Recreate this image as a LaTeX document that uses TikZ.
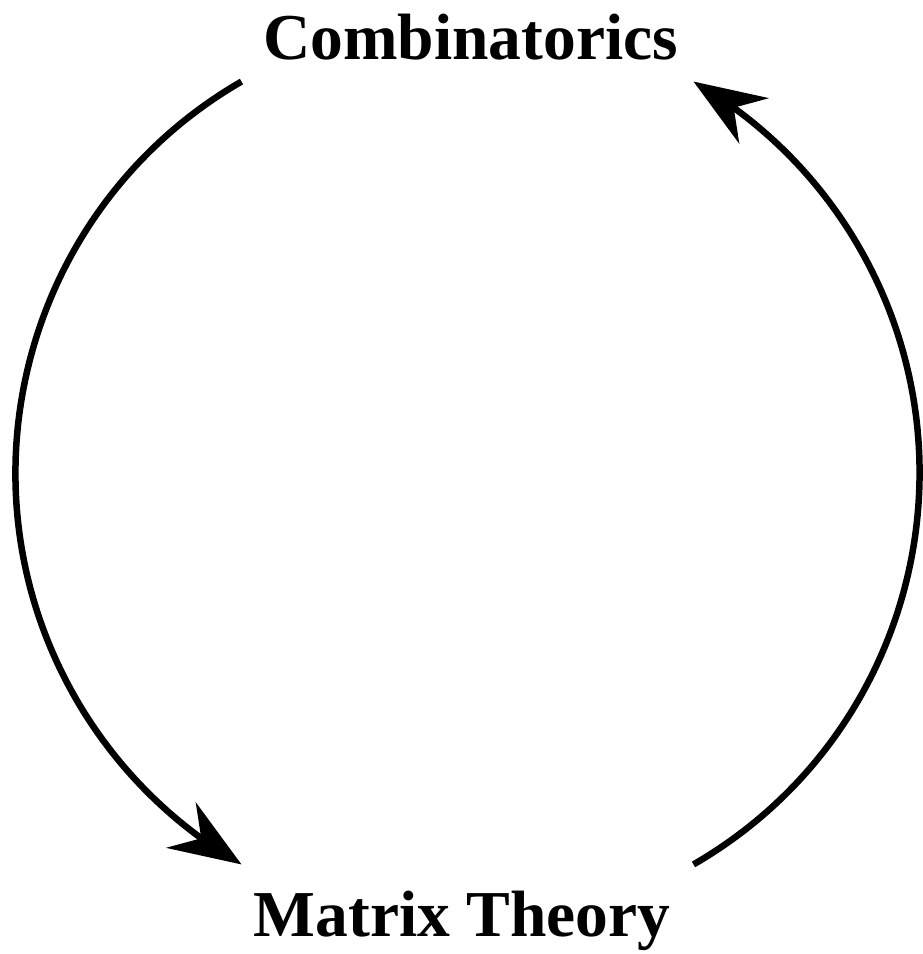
\documentclass[tikz,border=0pt]{standalone}
\usepackage{fontspec}
\setmainfont{Liberation Serif}
\usetikzlibrary{arrows.meta,bending,calc}
\begin{document}
\begin{tikzpicture}[x=1pt,y=1pt,
  label/.style={font=\fontsize{65.5}{70}\selectfont\bfseries, anchor=base, inner sep=0pt},
  cyc/.style={line width=6.5pt, -{Stealth[length=72pt,width=54pt,inset=24pt]}}]
\useasboundingbox (0,0) rectangle (922,954);
\node[label] (comb) at (470.5,894) {Combinatorics};
\node[label] (mat) at (462,17) {Matrix Theory};
\coordinate (c) at (467.5,481);
\coordinate (ls) at ($(c)+(120:452)$);
\coordinate (rs) at ($(c)+(300:452)$);
\draw[cyc] (ls) arc[start angle=120,end angle=240,radius=452];
\draw[cyc] (rs) arc[start angle=300,end angle=420,radius=452];
\end{tikzpicture}
\end{document}
